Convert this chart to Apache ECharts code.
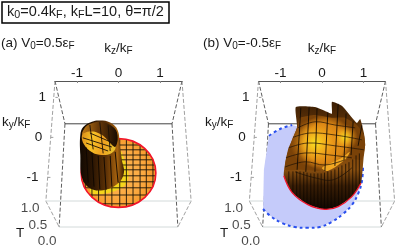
<!DOCTYPE html>
<html><head><meta charset="utf-8">
<style>html,body{margin:0;padding:0;background:#fff}#c{width:395px;height:252px}</style>
<script src="https://cdn.jsdelivr.net/npm/echarts@6/dist/echarts.min.js"></script>
</head><body><div id="c"></div>
<script>
// All coordinates below are (kz/kF, ky/kF).
const kzTicks = [-1, 0, 1];
const kyTicks = [1, 0, -1];
const kyTickMarks = [[-1.52, 1], [-1.63, 0], [-1.70, -1]];
const tTicks = [["1.0", -2.13, -1.77], ["0.5", -1.94, -2.20], ["0.0", -1.72, -2.60]];
const boxDark = [[[-1.53,1.41],[-1.29,.34]],[[1.53,1.41],[1.29,.34]],[[-1.29,.34],[-1.43,-2.24]],[[1.29,.34],[1.43,-2.24]]];
const boxGrey = [[[-1.53,1.41],[-1.75,-1.59]],[[1.53,1.41],[1.75,-1.59]],[[-1.75,-1.59],[-1.43,-2.24]],[[1.75,-1.59],[1.43,-2.24]]];
const boxFloor = [[[-1.75,-1.59],[1.75,-1.59]],[[-1.43,-2.24],[1.43,-2.24]]];
const boxBack = [[-1.29,.34],[1.29,.34]];

// panel (a)
const discA = {kz:0, ky:-.89, rz:.90, ry:.86};
const discGridKz = [-.80,-.64,-.48,-.32,-.16,.03,.19,.35,.52,.67,.83];
const discGridKy = [-.19,-.31,-.44,-.56,-.69,-.81,-.96,-1.11,-1.26,-1.44,-1.66];
const haloA = [[-.01,-.31],[.16,-.61],[.24,-1.01],[.08,-1.26],[-.45,-1.42],[-.69,-1.34],[-.45,-.81]];
const bodyA = [[-.92,.06],[-.85,.26],[-.64,.39],[-.45,.42],[-.20,.37],[-.02,.18],[.03,-.19],[.08,-.56],[.13,-.89],[-.02,-1.16],[-.37,-1.32],[-.69,-1.27],[-.88,-1.01],[-.92,-.44]];
const wallA = [[-.88,.09],[-.78,.28],[-.59,.37],[-.45,.39],[-.25,.34],[-.06,.18],[-.02,-.06],[-.09,-.24],[-.37,.04],[-.57,.14],[-.75,.14]];
const holeA = [[-.88,.06],[-.75,.17],[-.57,.17],[-.35,.06],[-.14,-.09],[-.07,-.26],[-.18,-.40],[-.40,-.44],[-.63,-.38],[-.83,-.18]];
const stripesA = [[[-.78,-.25],[-.73,-1.13]],[[-.64,-.38],[-.59,-1.23]],[[-.49,-.46],[-.45,-1.29]],[[-.35,-.49],[-.30,-1.31]],[[-.20,-.46],[-.16,-1.23]],[[-.08,-.36],[-.01,-1.13]]];
const holeLinesA = [[[-.86,-.01],[-.16,-.24]],[[-.78,-.14],[-.25,-.34]],[[-.69,.11],[-.13,-.14]],[[-.69,.31],[-.61,-.30]],[[-.45,.38],[-.37,-.40]],[[-.25,.30],[-.20,-.34]]];

// panel (b)
const blueB = [[-.72,.31],[-1.01,.21],[-1.28,.04],[-1.40,-.81],[-1.42,-1.79],[-1.25,-1.96],[-.96,-2.14],[-.65,-2.24],[-.36,-2.26],[-.05,-2.24],[.24,-2.11],[.51,-1.91],[.72,-1.69],[.87,-1.41],[.96,-1.11],[.99,-.69],[.67,-.06]];
const blueTopArc = [[-1.28,.04],[-1.01,.21],[-.72,.31]];
const blueLowArc = [[-1.42,-1.79],[-1.25,-1.96],[-.96,-2.14],[-.65,-2.24],[-.36,-2.26],[-.05,-2.24],[.24,-2.11],[.51,-1.91],[.72,-1.69],[.87,-1.41],[.96,-1.11],[.99,-.69]];
const shapeB = [[-.63,.76],[-.17,.76],[.12,.64],[.24,.59],[.24,.89],[.48,.79],[.67,.56],[.84,.36],[.92,.46],[1.01,.11],[1.04,-.19],[1.0,-.54],[.94,-1.14],[.72,-1.48],[.39,-1.73],[.07,-1.80],[-.34,-1.68],[-.72,-1.38],[-.92,-.96],[-.87,-.54],[-.72,-.06],[-.60,.26]];
const rimB = [[.94,-1.14],[.72,-1.48],[.39,-1.73],[.07,-1.80],[-.34,-1.68],[-.72,-1.38],[-.92,-.96]];
const domeB = [[-.60,.24],[-.53,.49],[-.17,.56],[.24,.49],[.55,.49],[.84,.31],[1.01,.06],[1.04,-.19],[.96,-.56],[.72,-.54],[.48,-.61],[.19,-.76],[-.10,-.84],[-.53,-.81],[-.89,-.81],[-.82,-.31],[-.72,-.06]];
const streakB = [[0,-.76],[.48,-.51],[.67,-.36],[.55,-.56],[.14,-.84]];
const glowsB = [{kz:-.17,ky:-.14,rz:.62,ry:.62},{kz:.55,ky:0,rz:.32,ry:.58}];
const domeLinesB = [[[-.51,.74],[-.60,-.81]],[[-.31,.75],[-.39,-.86]],[[-.12,.73],[-.17,-.86]],[[.14,.62],[.07,-.84]],[[.39,.84],[.31,-.71]],[[.58,.6],[.53,-.56]],[[.75,.4],[.70,-.44]],[[.96,.3],[.87,-.21]]];
const latLinesB = [[[-.58,.24],[-.17,.39],[.31,.31],[.80,.24]],[[-.70,0],[-.29,.11],[.31,.06],[.96,-.06]],[[-.80,-.26],[-.34,-.14],[.31,-.21],[1.01,-.31]],[[-.87,-.51],[-.41,-.39],[.19,-.44],[.72,-.51]],[[-.89,-.74],[-.41,-.61],[.07,-.69],[.55,-.56]],[[-.65,-.86],[-.17,-1.01],[.27,-1.06],[.72,-.76]]];
const bandStripesB = [[-.80,-.85,-1.16],[-.70,-.85,-1.36],[-.61,-.85,-1.46],[-.53,-.85,-1.52],[-.44,-.86,-1.60],[-.36,-.88,-1.66],[-.27,-.90,-1.72],[-.19,-.90,-1.75],[-.10,-.90,-1.78],[-.02,-.90,-1.79],[.06,-.88,-1.79],[.14,-.85,-1.77],[.22,-.83,-1.75],[.31,-.80,-1.72],[.40,-.75,-1.68],[.48,-.70,-1.62],[.57,-.66,-1.56],[.65,-.62,-1.50],[.74,-.55,-1.42],[.82,-.45,-1.32],[.90,-.40,-1.18]];

const FONT = 'Liberation Sans';
const TEXT = '#1a1a1a';
const rich = (s) => ({n:{fontSize:s,fontFamily:FONT,fontWeight:'normal',color:TEXT},s:{fontSize:s*.74,fontFamily:FONT,fontWeight:'normal',color:TEXT,padding:[s*.4,0,0,0]}});
const lin = (x2,y2,stops)=>({type:'linear',x:0,y:0,x2,y2,colorStops:stops.map(([offset,color])=>({offset,color}))});
const rad = (stops)=>({type:'radial',x:.5,y:.5,r:.5,colorStops:stops.map(([offset,color])=>({offset,color}))});

let series = [];
function poly(g, pts, style, closed, smooth, z){
  series.push({type:'custom',xAxisIndex:g,yAxisIndex:g,silent:true,animation:false,z:z||2,data:[pts[0]],
    renderItem:(p,api)=>({type:closed?'polygon':'polyline',
      shape:{points:pts.map(q=>api.coord(q)),smooth:smooth||0},
      style:Object.assign(closed?{}:{fill:null},style)})});
}
function ell(g,e,style,z){
  series.push({type:'custom',xAxisIndex:g,yAxisIndex:g,silent:true,animation:false,z:z||2,data:[[e.kz,e.ky]],
    renderItem:(p,api)=>{const c=api.coord([e.kz,e.ky]),s=api.size([e.rz,e.ry]);
      return {type:'ellipse',shape:{cx:c[0],cy:c[1],rx:s[0],ry:s[1]},style};}});
}
const INK={stroke:'#1c1408',lineWidth:.9};

[0,1].forEach(g=>{
  poly(g,boxBack,{stroke:'#444',lineWidth:1});
  boxDark.forEach(l=>poly(g,l,{stroke:'#333',lineWidth:.8,lineDash:[4,2]}));
  boxGrey.forEach(l=>poly(g,l,{stroke:'#888',lineWidth:.8,lineDash:[4,2]}));
  boxFloor.forEach(l=>poly(g,l,{stroke:'#d3dada',lineWidth:1}));
  kyTickMarks.forEach(([z,y])=>poly(g,[[z,y],[z+.06,y]],{stroke:'#888',lineWidth:.8}));
  series.push({type:'scatter',xAxisIndex:g,yAxisIndex:g,silent:true,animation:false,clip:false,symbolSize:0,z:3,
    data:tTicks.map(t=>({value:[t[1],t[2]],label:{formatter:t[0]}})),
    label:{show:true,position:'inside',fontSize:13.5,fontFamily:FONT,color:TEXT}});
});

// panel (a)
ell(0,discA,{fill:rad([[0,'#fdb652'],[.7,'#fbaa42'],[1,'#f89c2e']])});
poly(0,haloA,{fill:'#f4d61c'},true,.4);
discGridKz.forEach(z=>{const h=discA.ry*Math.sqrt(1-(z/discA.rz)**2);
  poly(0,[[z,discA.ky+h],[z,discA.ky-h]],INK);});
discGridKy.forEach(y=>{const d=y-discA.ky,w=discA.rz*Math.sqrt(1-(d/discA.ry)**2);
  poly(0,[[-w,y],[w,y]],INK);});
ell(0,discA,{fill:null,stroke:'#f2142a',lineWidth:1.6});
poly(0,bodyA,{fill:lin(1,0,[[0,'#120901'],[.3,'#2c1603'],[.6,'#5e3206'],[.85,'#a8640f'],[1,'#3a1e04']])},true,.4);
poly(0,holeA,{fill:lin(1,.3,[[0,'#d98a18'],[.35,'#f7c226'],[.7,'#f0a020'],[1,'#e9bf2a']])},true,.4);
poly(0,wallA,{fill:lin(1,0,[[0,'#c07a16'],[.45,'#6a3a08'],[1,'#160b01']])},true,.3);
stripesA.forEach(l=>poly(0,l,{stroke:'#0c0601',lineWidth:.9}));
holeLinesA.forEach(l=>poly(0,l,{stroke:'#1c1005',lineWidth:.9}));

// panel (b)
poly(1,blueB,{fill:'#c5cbfa'},true);
poly(1,blueTopArc,{stroke:'#2a50ee',lineWidth:2,lineDash:[3,3]},false,.4);
poly(1,blueLowArc,{stroke:'#2a50ee',lineWidth:2,lineDash:[3,3]},false,.4);
poly(1,shapeB,{fill:lin(0,1,[[0,'#3c1f05'],[.4,'#7a4209'],[.63,'#8a5010'],[.78,'#3a1e05'],[1,'#0f0701']])},true,.15);
poly(1,domeB,{fill:rad([[0,'#f0a01c'],[.7,'#d88414'],[1,'#7a4208']])},true,.15);
glowsB.forEach(e=>ell(1,e,{fill:rad([[0,'rgba(250,224,32,1)'],[.45,'rgba(245,180,30,.75)'],[1,'rgba(230,130,20,0)']])}));
poly(1,streakB,{fill:'#f2a822'},true,.3);
bandStripesB.forEach(([z,a,b])=>poly(1,[[z,a],[z,b]],{stroke:'#0c0601',lineWidth:.7}));
domeLinesB.forEach(l=>poly(1,l,{stroke:'#120a02',lineWidth:.9}));
latLinesB.forEach(l=>poly(1,l,{stroke:'#1c1005',lineWidth:.7},false,.4));
poly(1,rimB,{stroke:'#f2142a',lineWidth:1.3},false,.4);

const xAx = (g)=>({gridIndex:g,type:'value',position:'top',min:-1.53,max:1.53,
  name:'{n|k}{s|z}{n|/k}{s|F}',nameLocation:'middle',nameGap:25,nameTextStyle:{rich:rich(13.5)},
  axisLine:{show:true,onZero:false,lineStyle:{color:'#555',width:1}},
  axisTick:{show:true,inside:true,length:2,customValues:kzTicks,lineStyle:{color:'#888'}},
  axisLabel:{show:true,margin:1,fontSize:13.5,fontFamily:FONT,color:TEXT,customValues:kzTicks,formatter:v=>String(v)},
  splitLine:{show:false}});
const yAx = (g)=>({gridIndex:g,type:'value',position:'left',min:-2.59,max:1.41,
  axisLine:{show:false,onZero:false},axisTick:{show:false},splitLine:{show:false},
  axisLabel:{show:true,margin:9,padding:[6,0,0,0],fontSize:13.5,fontFamily:FONT,color:TEXT,customValues:kyTicks,
    formatter:v=>String(v)+(v===0?' ':v<0?'  ':'')}});
const T=(left,top,text,size,extra)=>Object.assign({left,top,text,padding:0,textStyle:{rich:rich(size),fontSize:size,fontWeight:'normal'}},extra||{});

echarts.init(document.getElementById('c'),null,{renderer:'canvas'}).setOption({
  animation:false,backgroundColor:'#fff',
  title:[
    T(2,1,'{n|k}{s|0}{n|=0.4k}{s|F}{n|, k}{s|F}{n|L=10, θ=π/2}',14.5,{padding:[3,5,2,5],borderColor:'#000',borderWidth:1.5}),
    T(1,36,'{n|(a) V}{s|0}{n|=0.5ε}{s|F}',13.5),
    T(203,36,'{n|(b) V}{s|0}{n|=-0.5ε}{s|F}',13.5),
    T(2,115,'{n|k}{s|y}{n|/k}{s|F}',13.5),
    T(205,115,'{n|k}{s|y}{n|/k}{s|F}',13.5),
    T(16,226,'{n|T}',13.5),
    T(220,226,'{n|T}',13.5)
  ],
  grid:[{left:55,right:213,top:81,bottom:11},{left:258.5,right:9.5,top:81,bottom:11}],
  xAxis:[xAx(0),xAx(1)],yAxis:[yAx(0),yAx(1)],series
});
</script></body></html>
